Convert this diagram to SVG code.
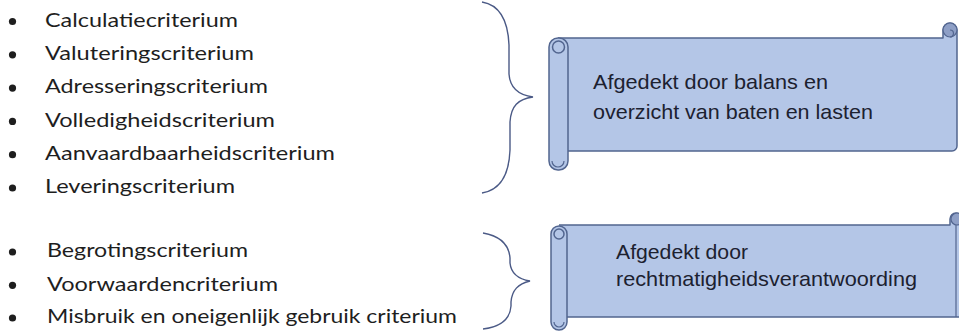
<svg xmlns="http://www.w3.org/2000/svg" width="959" height="331" viewBox="0 0 959 331">
<style>
.li{font-family:Lato,"Open Sans","Liberation Sans",sans-serif;font-size:20px;fill:#1e1e1e}
.st{font-family:"Liberation Sans",Arial,sans-serif;font-size:21px;fill:#1c2130}
.bul{fill:#1e1e1e}
.brace{fill:none;stroke:#4b5a86;stroke-width:1.4}
.body{fill:#b4c6e7;stroke:#52658f;stroke-width:1.5;stroke-linejoin:round}
.roll{fill:#b4c6e7;stroke:#52658f;stroke-width:1.5}
.curl{fill:#8e9fc6;stroke:#52658f;stroke-width:1.2}
.ln{fill:none;stroke:#52658f;stroke-width:1.2}
</style>
<rect width="959" height="331" fill="#ffffff"/>
<g id="list1">
<circle class="bul" cx="12.5" cy="21.5" r="3.6"/>
<circle class="bul" cx="12.5" cy="54.8" r="3.6"/>
<circle class="bul" cx="12.5" cy="88.1" r="3.6"/>
<circle class="bul" cx="12.5" cy="121.4" r="3.6"/>
<circle class="bul" cx="12.5" cy="154.7" r="3.6"/>
<circle class="bul" cx="12.5" cy="188" r="3.6"/>
<text class="li" x="45" y="26.7" textLength="193" lengthAdjust="spacingAndGlyphs">Calculatiecriterium</text>
<text class="li" x="45" y="60" textLength="209" lengthAdjust="spacingAndGlyphs">Valuteringscriterium</text>
<text class="li" x="45" y="93.3" textLength="223" lengthAdjust="spacingAndGlyphs">Adresseringscriterium</text>
<text class="li" x="45" y="126.7" textLength="230" lengthAdjust="spacingAndGlyphs">Volledigheidscriterium</text>
<text class="li" x="45" y="160" textLength="290" lengthAdjust="spacingAndGlyphs">Aanvaardbaarheidscriterium</text>
<text class="li" x="45" y="193.3" textLength="190" lengthAdjust="spacingAndGlyphs">Leveringscriterium</text>
</g>
<g id="list2">
<circle class="bul" cx="12.5" cy="252" r="3.6"/>
<circle class="bul" cx="12.5" cy="285.3" r="3.6"/>
<circle class="bul" cx="12.5" cy="318" r="3.6"/>
<text class="li" x="47" y="257.3" textLength="201" lengthAdjust="spacingAndGlyphs">Begrotingscriterium</text>
<text class="li" x="47" y="290.7" textLength="231" lengthAdjust="spacingAndGlyphs">Voorwaardencriterium</text>
<text class="li" x="47" y="323.3" textLength="410" lengthAdjust="spacingAndGlyphs">Misbruik en oneigenlijk gebruik criterium</text>
</g>
<g id="connectors">
<path class="brace" d="M482 2 C500 5 508 20 509 45 L509 74 C510 88 518 95 533 97 C518 99 511 106 510 122 L510 150 C509 176 500 190 482 193"/>
<path class="brace" d="M483 233 C500 236 509 245 510 258 L510 263 C511 273 518 279 530 281 C518 284 512 290 511 302 L511 306 C510 320 500 327 483 329"/>
</g>
<g id="scroll1">
<path class="body" d="M558 38 L943 38 L943 30 A7 7 0 0 1 957 30 L957 146 A5 5 0 0 1 952 151 L568 151"/>
<circle class="curl" cx="950" cy="30" r="7"/>
<path class="ln" d="M950 30 A3.5 3.5 0 0 1 950 37"/>
<rect class="roll" x="549" y="38" width="19" height="132" rx="9" ry="9"/>
<circle class="roll" cx="558.5" cy="47" r="6"/>
<path class="ln" d="M552 161 A6 6 0 0 0 564 161"/>
<text class="st" x="593" y="89.3" textLength="235" lengthAdjust="spacingAndGlyphs">Afgedekt door balans en</text>
<text class="st" x="593" y="119.3" textLength="280" lengthAdjust="spacingAndGlyphs">overzicht van baten en lasten</text>
</g>
<g id="scroll2">
<path class="body" d="M559 225 L950 225 L950 219 A6 6 0 0 1 962 219 L962 317 L567 317"/>
<line class="ln" x1="956" y1="225" x2="956" y2="317"/>
<circle class="curl" cx="957" cy="219" r="6"/>
<rect class="roll" x="551" y="226" width="16" height="104" rx="8" ry="8"/>
<circle class="roll" cx="559" cy="234" r="5"/>
<path class="ln" d="M554 322 A5 5 0 0 0 564 322"/>
<text class="st" x="616" y="259.3" textLength="132" lengthAdjust="spacingAndGlyphs">Afgedekt door</text>
<text class="st" x="616" y="285.5" textLength="301" lengthAdjust="spacingAndGlyphs">rechtmatigheidsverantwoording</text>
</g>
</svg>
